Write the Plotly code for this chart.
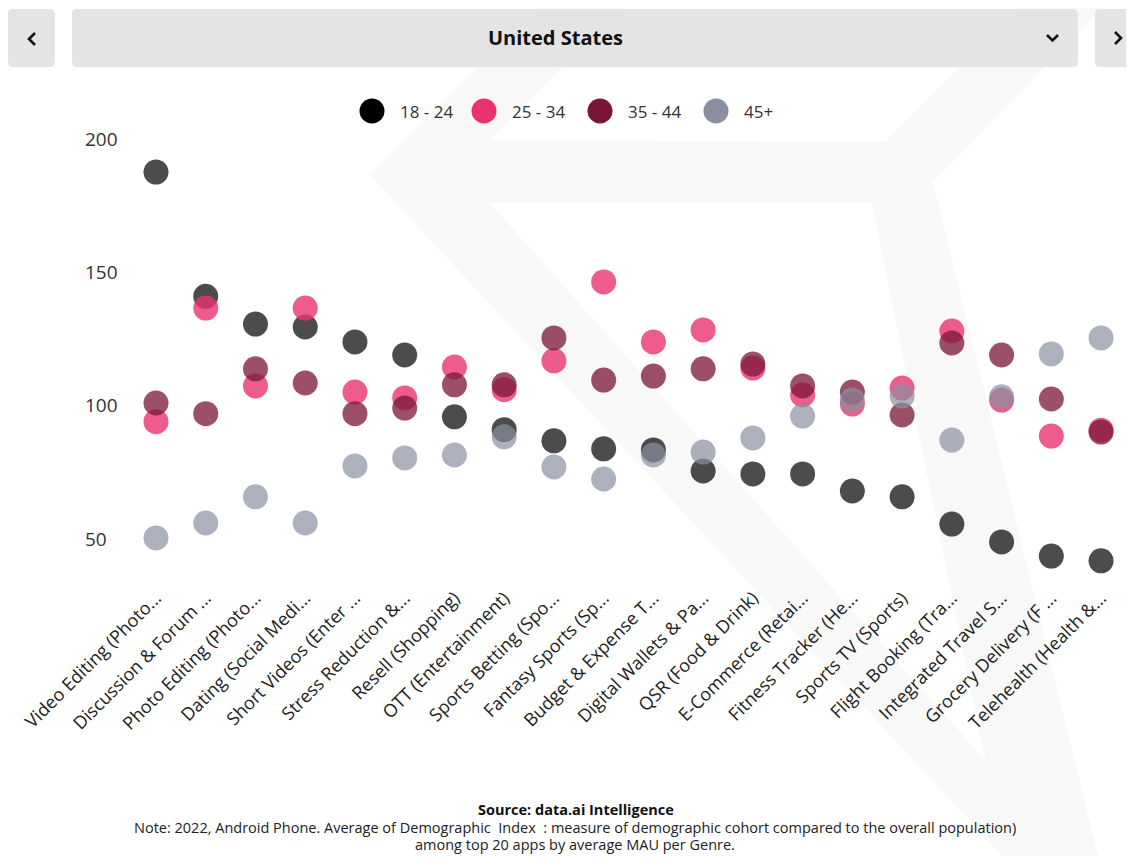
import plotly.graph_objects as go

# ---------------- data ----------------
categories = [
    "Video Editing (Photo...", "Discussion & Forum ...", "Photo Editing (Photo...",
    "Dating (Social Medi...", "Short Videos (Enter ...", "Stress Reduction &...",
    "Resell (Shopping)", "OTT (Entertainment)", "Sports Betting (Spo...",
    "Fantasy Sports (Sp...", "Budget & Expense T...", "Digital Wallets & Pa...",
    "QSR (Food & Drink)", "E-Commerce (Retai...", "Fitness Tracker (He...",
    "Sports TV (Sports)", "Flight Booking (Tra...", "Integrated Travel S...",
    "Grocery Delivery (F ...", "Telehealth (Health &...",
]
age_18_24 = [187.6, 141.0, 130.6, 129.5, 123.9, 119.0, 95.8, 91.0, 86.8, 83.8,
             83.4, 75.5, 74.4, 74.4, 68.0, 65.8, 55.6, 48.9, 43.6, 41.8]
age_25_34 = [94.0, 136.6, 107.4, 136.6, 105.1, 102.9, 114.5, 106.0, 116.8, 146.4,
             123.9, 128.4, 114.1, 104.0, 100.6, 106.6, 128.0, 102.1, 88.6, 90.8]
age_35_44 = [101.0, 97.0, 113.8, 108.5, 97.0, 99.1, 107.8, 107.8, 125.4, 109.6,
             111.1, 113.8, 115.6, 107.4, 105.1, 96.5, 123.5, 119.0, 102.5, 90.1]
age_45_plus = [50.4, 56.0, 65.8, 56.0, 77.4, 80.4, 81.5, 88.3, 77.0, 72.5,
               81.5, 82.6, 87.9, 96.1, 102.1, 103.6, 87.1, 103.3, 119.4, 125.4]
series_names = ["18 - 24", "25 - 34", "35 - 44", "45+"]
y_ticks = [50, 100, 150, 200]

title_text = "United States"
source_text = "<b>Source: data.ai Intelligence</b>"
note_line1 = "Note: 2022, Android Phone. Average of Demographic  Index  : measure of demographic cohort compared to the overall population)"
note_line2 = "among top 20 apps by average MAU per Genre."

# ---------------- styling / layout ----------------
W, H = 1118, 848          # body has 8px margin in the page
OFF = 8
colors = ["#000000", "#e8336e", "#7a1535", "#8a90a2"]
opac = [0.70, 0.80, 0.75, 0.70]
FONT = "Open Sans"

def px(x):  # page px -> paper x
    return (x - OFF) / W

def py(y):  # page px -> paper y
    return 1 - (y - OFF) / H

# axis geometry (figure px)
L = 74
cat0, step = 148.0, 49.74
x0 = -(cat0 - L) / step
x1 = x0 + (W - L) / step
top_px, bot_px = 95, 575
y_at = lambda fy: 200 - (fy - 131) / 2.6667
yr = [y_at(bot_px), y_at(top_px)]

fig = go.Figure()
for name, vals, c, o in zip(series_names, [age_18_24, age_25_34, age_35_44, age_45_plus], colors, opac):
    fig.add_trace(go.Scatter(
        x=categories, y=vals, mode="markers", name=name, showlegend=False,
        marker=dict(size=25, color=c, opacity=o, line=dict(width=0)),
        hoverinfo="x+y+name",
    ))

shapes = []
ann = []

def poly(points, color):
    d = "M " + " L ".join(f"{px(a):.5f},{py(b):.5f}" for a, b in points) + " Z"
    return dict(type="path", path=d, xref="paper", yref="paper",
                fillcolor=color, line=dict(width=0), layer="below")

# watermark
shapes.append(poly([(545, 0), (630, 0), (490, 140), (885, 142), (1027, 0), (1110, 0),
                    (933, 182), (1100, 864), (1010, 864), (370, 175)], "#f8f8f8"))
shapes.append(poly([(490, 203), (872, 203), (985, 760)], "#ffffff"))

def rrect(xa, ya, xb, yb, r, color):
    pts = (f"M {px(xa + r)},{py(ya)} L {px(xb - r)},{py(ya)} Q {px(xb)},{py(ya)} {px(xb)},{py(ya + r)} "
           f"L {px(xb)},{py(yb - r)} Q {px(xb)},{py(yb)} {px(xb - r)},{py(yb)} "
           f"L {px(xa + r)},{py(yb)} Q {px(xa)},{py(yb)} {px(xa)},{py(yb - r)} "
           f"L {px(xa)},{py(ya + r)} Q {px(xa)},{py(ya)} {px(xa + r)},{py(ya)} Z")
    return dict(type="path", path=pts, xref="paper", yref="paper",
                fillcolor=color, line=dict(width=0), layer="below")

# header boxes
shapes.append(rrect(8, 9, 55, 67, 5, "#e4e4e4"))
shapes.append(rrect(72, 9, 1078, 67, 5, "#e4e4e4"))
shapes.append(rrect(1095, 9, 1150, 67, 5, "#e4e4e4"))

def polyline(points, width=2.6):
    d = "M " + " L ".join(f"{px(a):.5f},{py(b):.5f}" for a, b in points)
    return dict(type="path", path=d, xref="paper", yref="paper",
                line=dict(color="#111111", width=width))

shapes.append(polyline([(35, 33), (29, 39), (35, 45)]))
shapes.append(polyline([(1115, 32), (1121, 38), (1115, 44)]))
shapes.append(polyline([(1047, 35), (1052.5, 40.5), (1058, 35)]))

ann.append(dict(text=title_text, x=px(555), y=py(38), xref="paper", yref="paper",
                showarrow=False, xanchor="center", yanchor="middle",
                font=dict(family=FONT, size=20, color="#111111", weight="bold")))

# legend (custom, large round markers)
leg_x = [372, 484, 600, 716]
leg_y = 111
r = 12.5
for lx, name, c in zip(leg_x, series_names, colors):
    shapes.append(dict(type="circle", xref="paper", yref="paper",
                       x0=px(lx - r), x1=px(lx + r), y0=py(leg_y + r), y1=py(leg_y - r),
                       fillcolor=c, line=dict(width=0)))
    ann.append(dict(text=name, x=px(lx + 26), y=py(leg_y), xref="paper", yref="paper",
                    showarrow=False, xanchor="left", yanchor="middle",
                    font=dict(family=FONT, size=17, color="#333333")))

# footer
ann.append(dict(text=source_text, x=px(576), y=py(809), xref="paper", yref="paper",
                showarrow=False, xanchor="center", yanchor="middle",
                font=dict(family=FONT, size=14.5, color="#111111")))
ann.append(dict(text=note_line1, x=px(575), y=py(827), xref="paper", yref="paper",
                showarrow=False, xanchor="center", yanchor="middle",
                font=dict(family=FONT, size=14.5, color="#222222")))
ann.append(dict(text=note_line2, x=px(575), y=py(844), xref="paper", yref="paper",
                showarrow=False, xanchor="center", yanchor="middle",
                font=dict(family=FONT, size=14.5, color="#222222")))

fig.update_layout(
    width=W, height=H,
    margin=dict(l=0, r=0, t=0, b=0, autoexpand=False),
    paper_bgcolor="white", plot_bgcolor="rgba(0,0,0,0)",
    showlegend=False,
    shapes=shapes, annotations=ann,
    xaxis=dict(domain=[L / W, 1], range=[x0, x1], type="category", automargin=False,
               showgrid=False, zeroline=False, showline=False, ticks="",
               tickangle=-45, tickfont=dict(family=FONT, size=18, color="#222222")),
    yaxis=dict(domain=[1 - bot_px / H, 1 - top_px / H], range=yr, automargin=False,
               tickvals=y_ticks, showgrid=False, zeroline=False, showline=False,
               ticks="", ticklabelposition="inside",
               tickfont=dict(family=FONT, size=19, color="#333333")),
)

fig.write_html("out.html")
